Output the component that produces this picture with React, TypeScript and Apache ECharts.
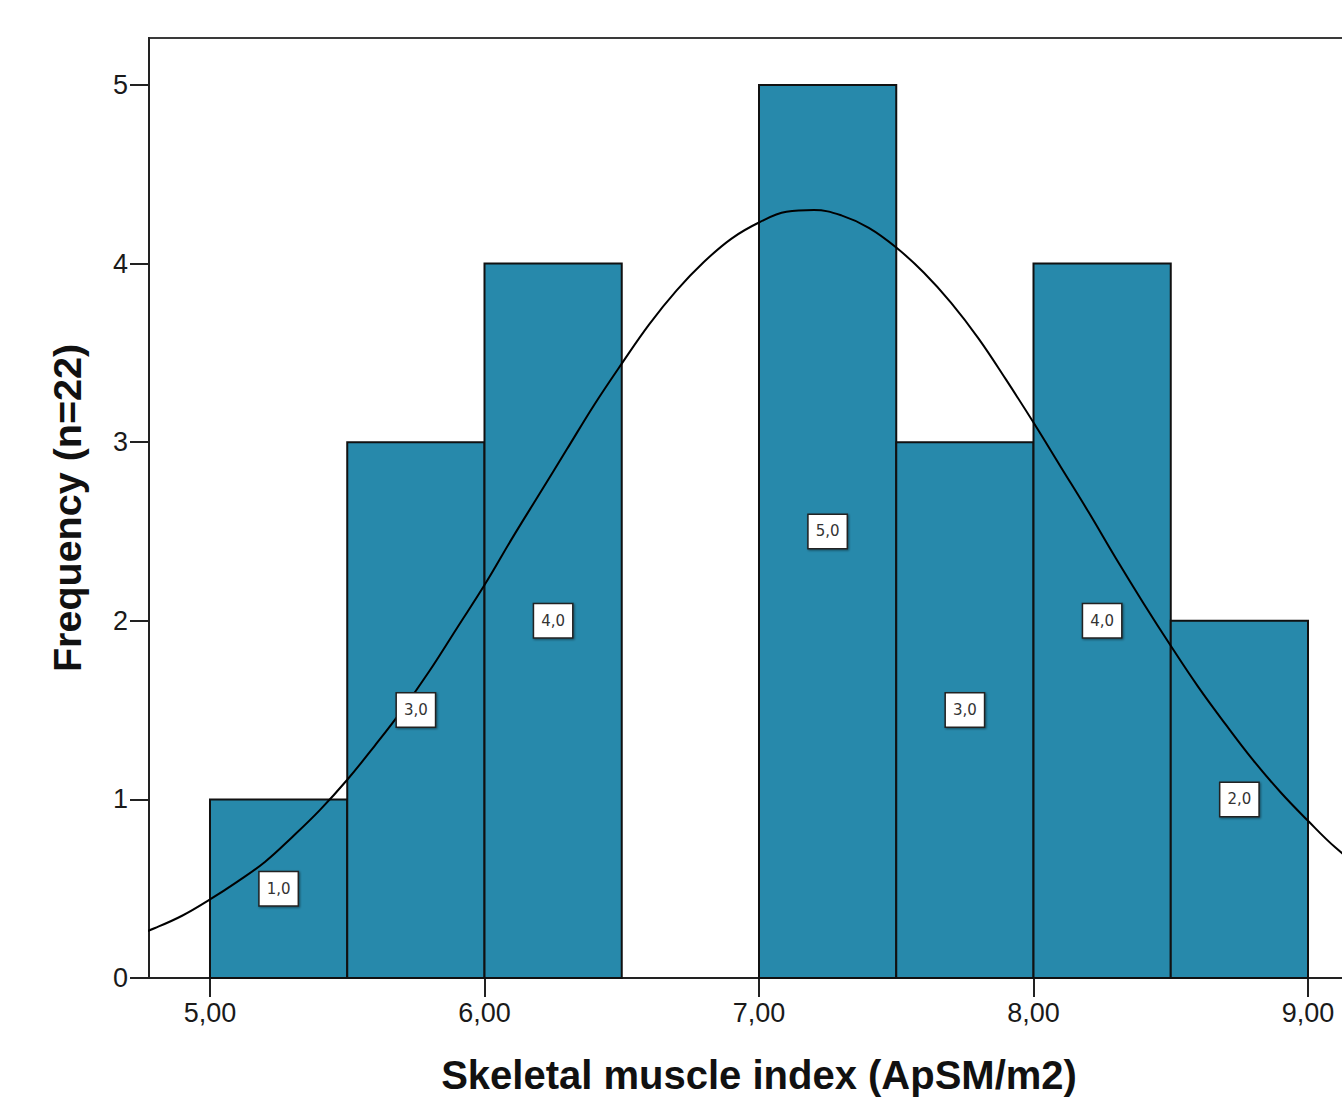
import React, { useEffect, useRef } from "react";
import * as echarts from "echarts";

// Histogram bins (lower edge, upper edge) and frequencies
const binStarts = [5.0, 5.5, 6.0, 6.5, 7.0, 7.5, 8.0, 8.5];
const binEnds = [5.5, 6.0, 6.5, 7.0, 7.5, 8.0, 8.5, 9.0];
const frequencies = [1, 3, 4, 0, 5, 3, 4, 2];

// Normal curve points
const curveX = [
  4.7, 4.8, 4.9, 5.0, 5.1, 5.2, 5.3, 5.4, 5.5, 5.6, 5.7, 5.8, 5.9, 6.0, 6.1, 6.2,
  6.3, 6.4, 6.5, 6.6, 6.7, 6.8, 6.9, 7.0, 7.1, 7.2, 7.3, 7.4, 7.5, 7.6, 7.7, 7.8,
  7.9, 8.0, 8.1, 8.2, 8.3, 8.4, 8.5, 8.6, 8.7, 8.8, 8.9, 9.0, 9.1, 9.2, 9.3,
];
const curveY = [
  0.22, 0.28, 0.35, 0.44, 0.54, 0.65, 0.79, 0.94, 1.11, 1.3, 1.5, 1.72, 1.96, 2.2, 2.46, 2.71,
  2.96, 3.21, 3.44, 3.66, 3.85, 4.01, 4.14, 4.23, 4.29, 4.3, 4.27, 4.2, 4.09, 3.95, 3.78, 3.58,
  3.35, 3.11, 2.86, 2.61, 2.35, 2.1, 1.86, 1.63, 1.42, 1.22, 1.04, 0.88, 0.73, 0.61, 0.5,
];

const xTicks = [5, 6, 7, 8, 9];
const yTicks = [0, 1, 2, 3, 4, 5];
const xTitle = "Skeletal muscle index (ApSM/m2)";
const yTitle = "Frequency (n=22)";

const BAR_COLOR = "#2789ab";
const FONT = "Liberation Sans";
const LABEL_FONT = "DejaVu Sans";

export default function App() {
  const ref = useRef<HTMLDivElement>(null);
  useEffect(() => {
    if (!ref.current) return;
    const chart = echarts.init(ref.current, undefined, { renderer: "svg" });
    const barData = binStarts.map((s, i) => [s, binEnds[i], frequencies[i]]);
    const labelData = binStarts
      .map((s, i) => [(s + binEnds[i]) / 2, frequencies[i] / 2, frequencies[i]])
      .filter((d) => d[2] > 0);
    const curve = curveX.map((x, i) => [x, curveY[i]]);

    chart.setOption({
      animation: false,
      backgroundColor: "#ffffff",
      grid: {
        left: 149,
        top: 38,
        bottom: 120,
        right: 0,
        outerBoundsMode: "none",
        containLabel: false,
        show: true,
        borderColor: "#3a3a3a",
        borderWidth: 2,
        backgroundColor: "transparent",
      },
      xAxis: {
        type: "value",
        min: 4.7778,
        max: 9.2222,
        splitLine: { show: false },
        axisLine: { show: true, onZero: false, lineStyle: { color: "#222", width: 2 } },
        axisTick: {
          show: true,
          length: 19,
          customValues: xTicks,
          lineStyle: { color: "#222", width: 2 },
        },
        axisLabel: {
          customValues: xTicks,
          formatter: (v: number) => v.toFixed(2).replace(".", ","),
          fontFamily: FONT,
          fontSize: 27,
          color: "#1a1a1a",
          margin: 21,
        },
        name: xTitle,
        nameLocation: "middle",
        nameGap: 77,
        nameTextStyle: {
          fontFamily: FONT,
          fontWeight: "bold",
          fontSize: 40,
          color: "#111",
        },
      },
      yAxis: {
        type: "value",
        min: 0,
        max: 5.263,
        splitLine: { show: false },
        axisLine: { show: true, lineStyle: { color: "#222", width: 2 } },
        axisTick: {
          show: true,
          length: 19,
          customValues: yTicks,
          lineStyle: { color: "#222", width: 2 },
        },
        axisLabel: {
          customValues: yTicks,
          fontFamily: FONT,
          fontSize: 27,
          color: "#1a1a1a",
          margin: 21,
        },
        name: yTitle,
        nameLocation: "middle",
        nameGap: 62,
        nameRotate: 90,
        nameTextStyle: {
          fontFamily: FONT,
          fontWeight: "bold",
          fontSize: 39.5,
          color: "#111",
        },
      },
      series: [
        {
          type: "custom",
          z: 1,
          data: barData,
          encode: { x: [0, 1], y: 2 },
          renderItem: (params: any, api: any) => {
            const x0 = api.value(0);
            const x1 = api.value(1);
            const v = api.value(2);
            if (!v) return null;
            const p0 = api.coord([x0, v]);
            const p1 = api.coord([x1, 0]);
            return {
              type: "rect",
              shape: { x: p0[0], y: p0[1], width: p1[0] - p0[0], height: p1[1] - p0[1] },
              style: { fill: BAR_COLOR, stroke: "#111", lineWidth: 2 },
            };
          },
        },
        {
          type: "line",
          z: 2,
          data: curve,
          smooth: 0.4,
          showSymbol: false,
          clip: true,
          lineStyle: { color: "#000", width: 2 },
        },
        {
          type: "custom",
          z: 3,
          data: labelData,
          encode: { x: 0, y: 1 },
          renderItem: (params: any, api: any) => {
            const p = api.coord([api.value(0), api.value(1)]);
            const v = api.value(2);
            return {
              type: "text",
              x: p[0],
              y: p[1],
              style: {
                text: v.toFixed(1).replace(".", ","),
                fontFamily: LABEL_FONT,
                fontSize: 15,
                fill: "#333",
                align: "center",
                verticalAlign: "middle",
                backgroundColor: "#ffffff",
                borderColor: "#222",
                borderWidth: 1.5,
                padding: [9, 7, 9, 7],
                shadowColor: "rgba(0,0,0,0.45)",
                shadowOffsetX: 1,
                shadowOffsetY: 1,
                shadowBlur: 2,
              },
            };
          },
        },
      ],
    });
    return () => chart.dispose();
  }, []);

  return (
    <div
      style={{
        position: "fixed",
        left: 0,
        top: 0,
        width: 1342,
        height: 1098,
        overflow: "hidden",
        background: "#fff",
      }}
    >
      <div ref={ref} style={{ position: "absolute", left: 0, top: 0, width: 1369, height: 1098 }} />
    </div>
  );
}
